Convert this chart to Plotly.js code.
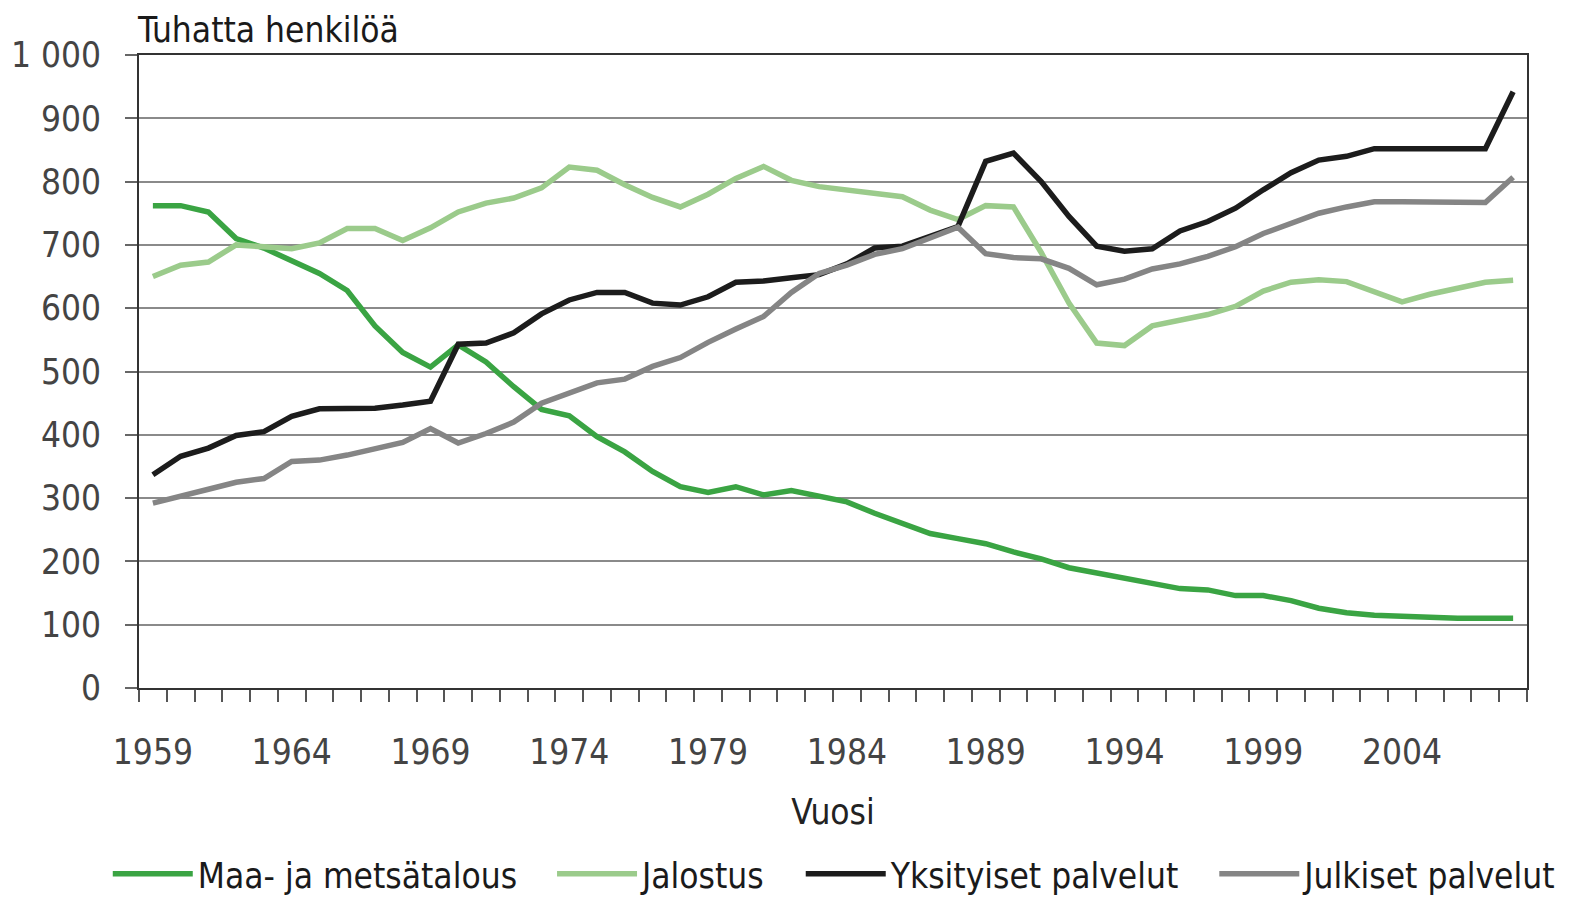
<!DOCTYPE html>
<html>
<head>
<meta charset="utf-8">
<script src="https://cdn.plot.ly/plotly-3.0.1.min.js"></script>
<style>
html,body{margin:0;padding:0;background:#fff;}
#chart{width:1575px;height:899px;}
</style>
</head>
<body>
<div id="chart"></div>
<script>
const years = [1959,1960,1961,1962,1963,1964,1965,1966,1967,1968,1969,1970,1971,1972,1973,1974,1975,1976,1977,1978,1979,1980,1981,1982,1983,1984,1985,1986,1987,1988,1989,1990,1991,1992,1993,1994,1995,1996,1997,1998,1999,2000,2001,2002,2003,2004,2005,2006,2007,2008];

const maaJaMetsatalous = [762,762,752,710,695,675,655,628,572,530,507,542,515,476,440,430,397,373,342,318,309,318,305,312,304,294,276,260,244,236,228,215,204,190,182,174,166,157,155,146,146,138,126,119,115,113,113,110,110,110];

const jalostus = [650,668,673,700,697,694,703,726,726,707,727,752,766,774,790,823,818,795,775,760,780,805,824,802,792,787,780,776,755,740,762,760,688,608,545,541,572,582,590,603,627,641,645,642,626,610,622,631,641,644];

const yksityisetPalvelut = [337,366,379,399,405,429,441,442,442,447,453,543,545,561,591,613,625,625,608,605,618,641,643,648,653,670,695,698,713,729,832,845,800,745,698,690,694,722,737,758,787,814,834,840,852,852,852,852,852,942];

const julkisetPalvelut = [292,302,314,325,331,358,360,368,379,388,410,387,402,420,450,466,482,488,508,522,546,567,587,625,655,668,685,694,710,728,686,680,678,663,637,646,662,670,682,697,718,733,750,760,768,768,768,768,767,807];

const seriesNames = ['Maa- ja metsätalous','Jalostus','Yksityiset palvelut','Julkiset palvelut'];
const seriesColors = ['#3aa443','#9bcb8b','#1c1c1c','#858585'];

const xTickVals = [1959,1964,1969,1974,1979,1984,1989,1994,1999,2004];
const xTickText = ['1959','1964','1969','1974','1979','1984','1989','1994','1999','2004'];
const yTickVals = [0,100,200,300,400,500,600,700,800,900,1000];
const yTickText = ['0','100','200','300','400','500','600','700','800','900','1 000'];

const FONT = '"DejaVu Sans Condensed", "DejaVu Sans", sans-serif';
const FS = 35;
const LEGEND_PAD = '\u00a0\u00a0\u00a0';

const allSeries = [maaJaMetsatalous, jalostus, yksityisetPalvelut, julkisetPalvelut];
const traces = allSeries.map((vals, i) => ({
  type: 'scatter',
  mode: 'lines',
  x: years,
  y: vals,
  name: seriesNames[i] + (i < seriesNames.length - 1 ? LEGEND_PAD : ''),
  line: {color: seriesColors[i], width: 5.5, shape: 'linear'},
  hoverinfo: 'x+y'
}));

const layout = {
  width: 1575,
  height: 899,
  paper_bgcolor: '#ffffff',
  plot_bgcolor: '#ffffff',
  margin: {l: 139, r: 48, t: 55, b: 211, pad: 0, autoexpand: false},
  font: {family: FONT, size: FS, color: '#222222'},
  showlegend: true,
  legend: {
    orientation: 'h',
    x: -0.0225, xanchor: 'left',
    y: -0.294, yanchor: 'middle',
    font: {family: FONT, size: FS, color: '#1a1a1a'},
    itemwidth: 80,
    tracegroupgap: 0,
    bgcolor: 'rgba(0,0,0,0)'
  },
  xaxis: {
    range: [1958.5, 2008.5],
    tickmode: 'array',
    tickvals: xTickVals,
    ticktext: xTickText,
    ticks: '',
    ticklabelstandoff: 32,
    tickfont: {family: FONT, size: FS, color: '#444444'},
    showgrid: false,
    zeroline: false,
    showline: true,
    linecolor: '#333333',
    linewidth: 2,
    mirror: true,
    minor: {
      tickmode: 'linear',
      tick0: 1958.5,
      dtick: 1,
      ticks: 'outside',
      ticklen: 12,
      tickwidth: 2,
      tickcolor: '#555555',
      showgrid: false
    },
    title: {
      text: 'Vuosi',
      font: {family: FONT, size: FS, color: '#222222'},
      standoff: 28
    },
    fixedrange: true
  },
  yaxis: {
    range: [0, 1000],
    tickmode: 'array',
    tickvals: yTickVals,
    ticktext: yTickText,
    ticks: 'outside',
    ticklen: 12,
    tickwidth: 2,
    tickcolor: '#666666',
    ticklabelstandoff: 17,
    tickfont: {family: FONT, size: FS, color: '#444444'},
    showgrid: true,
    gridcolor: '#8a8a8a',
    gridwidth: 2,
    zeroline: false,
    showline: true,
    linecolor: '#333333',
    linewidth: 2,
    mirror: true,
    fixedrange: true
  },
  annotations: [{
    text: 'Tuhatta henkilöä',
    xref: 'paper', yref: 'paper',
    x: 0, y: 1,
    xanchor: 'left', yanchor: 'bottom',
    xshift: -4, yshift: 3,
    showarrow: false,
    font: {family: FONT, size: FS, color: '#1a1a1a'}
  }]
};

Plotly.newPlot('chart', traces, layout, {displayModeBar: false, staticPlot: true});
</script>
</body>
</html>
